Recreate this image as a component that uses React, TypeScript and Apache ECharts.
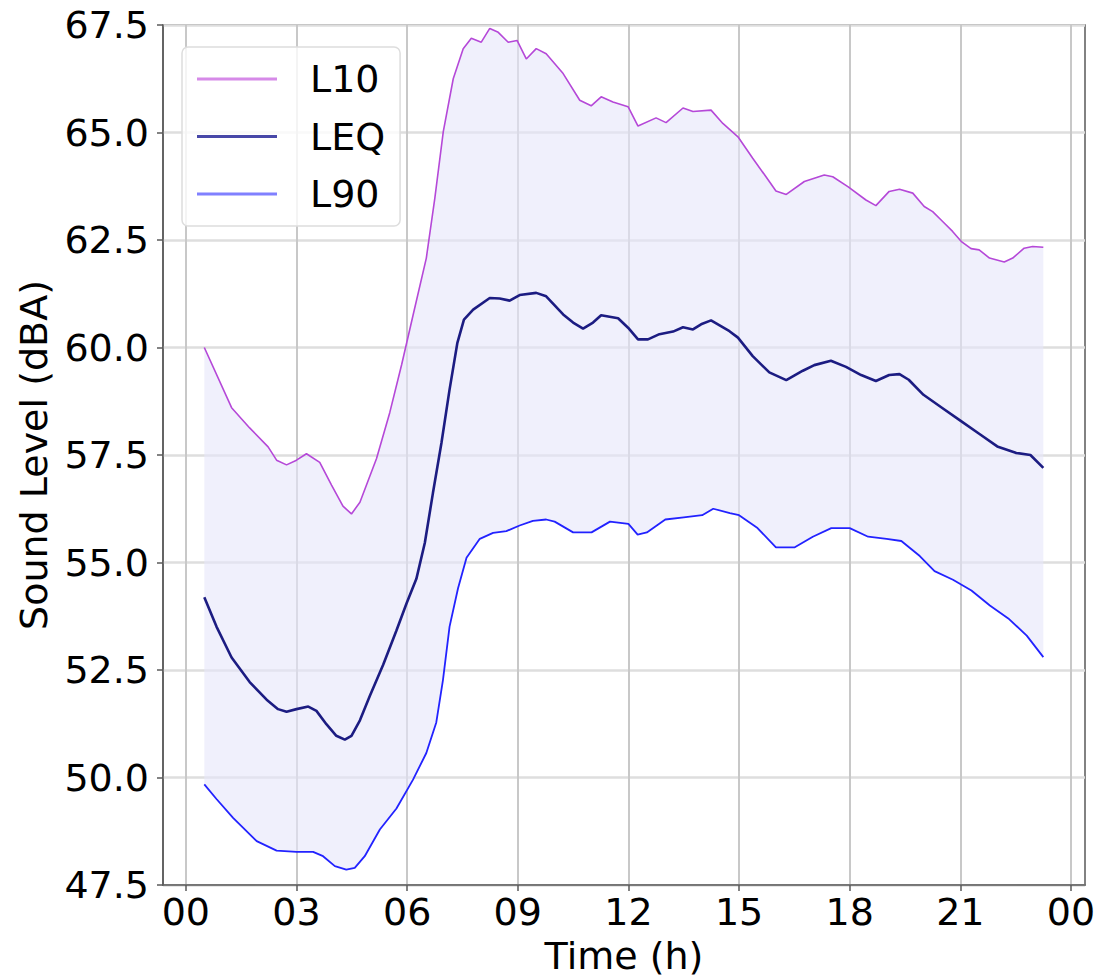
import React, { useEffect, useRef } from "react";
import * as echarts from "echarts";

const xTicks = [0, 3, 6, 9, 12, 15, 18, 21, 24];

const L10: [number, number][] = [
  [0.5, 60.0], [1.24, 58.6], [1.73, 58.13], [2.23, 57.69], [2.46, 57.38], [2.73, 57.27], [3.0, 57.38],
  [3.27, 57.53], [3.63, 57.33], [3.95, 56.8], [4.26, 56.31], [4.49, 56.13], [4.72, 56.4], [5.17, 57.42],
  [5.53, 58.49], [5.85, 59.6], [6.16, 60.75], [6.52, 62.08], [6.75, 63.47], [6.98, 65.02], [7.25, 66.25],
  [7.52, 66.95], [7.74, 67.19], [8.01, 67.1], [8.24, 67.42], [8.47, 67.33], [8.74, 67.1], [8.98, 67.14],
  [9.23, 66.71], [9.5, 66.95], [9.77, 66.83], [10.23, 66.37], [10.68, 65.75], [10.99, 65.62], [11.26, 65.83],
  [11.58, 65.71], [11.99, 65.6], [12.26, 65.15], [12.75, 65.34], [13.02, 65.23], [13.48, 65.57], [13.75, 65.49],
  [14.24, 65.52], [14.56, 65.21], [14.97, 64.9], [15.37, 64.4], [15.73, 63.97], [16.0, 63.64], [16.28, 63.56],
  [16.77, 63.86], [17.31, 64.01], [17.54, 63.97], [17.95, 63.74], [18.44, 63.43], [18.71, 63.3], [19.07, 63.63],
  [19.35, 63.68], [19.71, 63.59], [20.02, 63.28], [20.25, 63.16], [20.52, 62.93], [20.79, 62.7], [21.02, 62.47],
  [21.29, 62.3], [21.51, 62.27], [21.79, 62.08], [22.19, 61.99], [22.42, 62.08], [22.73, 62.31], [22.96, 62.35],
  [23.25, 62.33],
];

const LEQ: [number, number][] = [
  [0.5, 54.19], [0.83, 53.51], [1.24, 52.79], [1.73, 52.22], [2.19, 51.81], [2.5, 51.59], [2.73, 51.53],
  [3.0, 51.59], [3.32, 51.65], [3.54, 51.55], [3.81, 51.24], [4.08, 50.97], [4.31, 50.88], [4.49, 50.97],
  [4.72, 51.33], [4.99, 51.9], [5.35, 52.62], [5.71, 53.42], [5.98, 54.04], [6.25, 54.62], [6.48, 55.46],
  [6.7, 56.62], [6.93, 57.78], [7.15, 59.02], [7.36, 60.1], [7.54, 60.65], [7.79, 60.88], [8.24, 61.15],
  [8.51, 61.14], [8.78, 61.09], [9.05, 61.22], [9.5, 61.27], [9.77, 61.19], [10.23, 60.77], [10.5, 60.58],
  [10.77, 60.44], [11.04, 60.58], [11.26, 60.75], [11.72, 60.68], [11.99, 60.46], [12.26, 60.19], [12.53, 60.19],
  [12.84, 60.31], [13.21, 60.37], [13.48, 60.47], [13.75, 60.42], [13.97, 60.54], [14.24, 60.63], [14.74, 60.38],
  [14.97, 60.23], [15.37, 59.8], [15.82, 59.42], [16.28, 59.24], [16.73, 59.46], [17.04, 59.59], [17.49, 59.69],
  [17.9, 59.55], [18.31, 59.36], [18.71, 59.22], [19.07, 59.36], [19.35, 59.38], [19.6, 59.25], [20.0, 58.9],
  [20.5, 58.6], [21.0, 58.3], [21.5, 58.0], [22.0, 57.7], [22.5, 57.55], [22.9, 57.5], [23.25, 57.2],
];

const L90: [number, number][] = [
  [0.5, 49.84], [0.83, 49.5], [1.28, 49.06], [1.92, 48.52], [2.46, 48.3], [3.0, 48.27], [3.45, 48.27],
  [3.72, 48.17], [4.04, 47.94], [4.35, 47.86], [4.58, 47.9], [4.85, 48.17], [5.26, 48.79], [5.71, 49.28],
  [6.16, 49.95], [6.52, 50.57], [6.79, 51.28], [6.97, 52.26], [7.15, 53.51], [7.38, 54.4], [7.61, 55.11],
  [7.97, 55.55], [8.33, 55.69], [8.69, 55.73], [9.05, 55.86], [9.41, 55.97], [9.77, 56.0], [10.0, 55.95],
  [10.5, 55.7], [11.0, 55.7], [11.5, 55.95], [12.0, 55.9], [12.25, 55.65], [12.5, 55.7], [13.0, 56.0],
  [13.5, 56.05], [14.0, 56.1], [14.3, 56.25], [14.75, 56.15], [15.0, 56.1], [15.5, 55.8], [16.0, 55.35],
  [16.5, 55.35], [17.0, 55.6], [17.5, 55.8], [18.0, 55.8], [18.5, 55.6], [19.0, 55.55], [19.4, 55.5],
  [19.9, 55.15], [20.3, 54.8], [20.8, 54.6], [21.3, 54.35], [21.8, 54.0], [22.3, 53.7], [22.8, 53.3],
  [23.25, 52.8],
];

const FONT = "DejaVu Sans";

export default function App() {
  const ref = useRef<HTMLDivElement>(null);
  useEffect(() => {
    if (!ref.current) return;
    const chart = echarts.init(ref.current, undefined, { renderer: "svg" });
    const fmtHour = (v: number) => String(v % 24).padStart(2, "0");
    chart.setOption({
      animation: false,
      backgroundColor: "#ffffff",
      grid: {
        left: 163, right: 14, top: 25, bottom: 92,
        show: true, borderColor: "#5a5a5a", borderWidth: 1.5, backgroundColor: "transparent",
      },
      legend: {
        orient: "vertical",
        left: 182,
        top: 47,
        padding: [9, 15, 9, 15],
        itemGap: 11.5,
        itemWidth: 80,
        itemHeight: 3,
        icon: "rect",
        backgroundColor: "rgba(255,255,255,0.8)",
        borderColor: "#dddddd",
        borderWidth: 1.5,
        borderRadius: 6,
        textStyle: { fontSize: 38, fontFamily: FONT, color: "#000", padding: [0, 0, 0, 28], lineHeight: 46 },
        data: [
          { name: "L10", itemStyle: { color: "#d68ae8" } },
          { name: "LEQ", itemStyle: { color: "#4848a8" } },
          { name: "L90", itemStyle: { color: "#8080ff" } },
        ],
      },
      xAxis: {
        type: "value",
        min: -0.62,
        max: 24.38,
        name: "Time (h)",
        nameLocation: "middle",
        nameGap: 52,
        nameTextStyle: { fontSize: 38, fontFamily: FONT, color: "#000" },
        axisLine: { show: true, onZero: false, lineStyle: { color: "#5a5a5a", width: 1.5 } },
        axisTick: { show: true, length: 6, lineStyle: { color: "#5a5a5a", width: 1.5 }, customValues: xTicks },
        axisLabel: {
          fontSize: 38, fontFamily: FONT, color: "#000", margin: 8,
          customValues: xTicks, formatter: (v: number) => fmtHour(v),
        },
        splitLine: { show: true, lineStyle: { color: "#c8c8c8", width: 2 }, customValues: xTicks },
      },
      yAxis: {
        type: "value",
        min: 47.5,
        max: 67.5,
        interval: 2.5,
        name: "Sound Level (dBA)",
        nameLocation: "middle",
        nameGap: 108,
        nameTextStyle: { fontSize: 38, fontFamily: FONT, color: "#000" },
        axisLine: { show: true, onZero: false, lineStyle: { color: "#5a5a5a", width: 1.5 } },
        axisTick: { show: true, length: 6, lineStyle: { color: "#5a5a5a", width: 1.5 } },
        axisLabel: {
          fontSize: 38, fontFamily: FONT, color: "#000", margin: 14,
          formatter: (v: number) => v.toFixed(1),
        },
        splitLine: { show: true, lineStyle: { color: "#dedede", width: 2.5 } },
      },
      series: [
        {
          type: "custom",
          name: "band",
          silent: true,
          z: 1,
          data: [[0, 50]],
          renderItem: (_params: any, api: any) => {
            const pts = [
              ...L10.map((p) => api.coord(p)),
              ...L90.slice().reverse().map((p) => api.coord(p)),
            ];
            return {
              type: "polygon",
              shape: { points: pts },
              style: { fill: "rgba(230,230,250,0.6)", stroke: "none" },
            };
          },
        },
        {
          type: "line", name: "L10", data: L10, symbol: "none", z: 3,
          lineStyle: { color: "#b548d8", width: 1.6 }, itemStyle: { color: "#d68ae8" },
        },
        {
          type: "line", name: "LEQ", data: LEQ, symbol: "none", z: 3,
          lineStyle: { color: "#1c1c82", width: 2.6 }, itemStyle: { color: "#4848a8" },
        },
        {
          type: "line", name: "L90", data: L90, symbol: "none", z: 3,
          lineStyle: { color: "#2222ff", width: 1.8 }, itemStyle: { color: "#8080ff" },
        },
      ],
    });
    return () => chart.dispose();
  }, []);
  return (
    <div
      ref={ref}
      style={{ position: "absolute", left: 0, top: 0, width: 1099, height: 980 }}
    />
  );
}
